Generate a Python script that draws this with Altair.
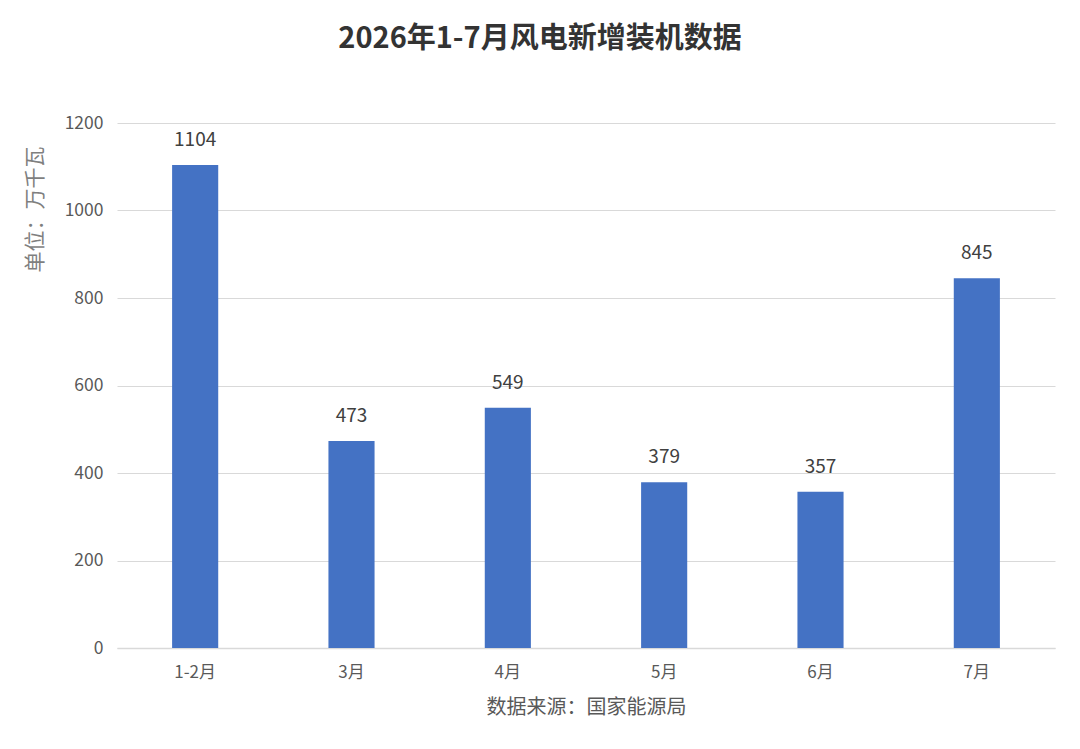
import altair as alt
import pandas as pd

months = ["1-2月", "3月", "4月", "5月", "6月", "7月"]
values = [1104, 473, 549, 379, 357, 845]

df = pd.DataFrame({"month": months, "value": values})

FONT = "Noto Sans CJK SC"

base = alt.Chart(df).encode(
    x=alt.X("month:N", sort=months,
            scale=alt.Scale(paddingInner=0.705, paddingOuter=0.3525),
            axis=alt.Axis(title="数据来源：国家能源局", labelAngle=0, ticks=False,
                          domainColor="#d9d9d9", domainWidth=1.3,
                          labelFontSize=17, labelColor="#595959", labelPadding=16,
                          labelFont=FONT, titleFont=FONT, titleFontSize=20,
                          titleFontWeight="normal", titleColor="#595959", titlePadding=17)),
    y=alt.Y("value:Q", scale=alt.Scale(domain=[0, 1200]),
            axis=alt.Axis(title="单位：万千瓦", values=[0, 200, 400, 600, 800, 1000, 1200],
                          format="d",
                          domain=False, ticks=False, gridColor="#d9d9d9", gridWidth=1.2,
                          labelFontSize=17.5, labelColor="#595959", labelPadding=14,
                          labelFont=FONT, titleFont=FONT, titleFontSize=21,
                          titleFontWeight="normal", titleColor="#7f7f7f",
                          titleX=-82, titleY=86, titleAlign="center", titleBaseline="middle")),
)

bars = base.mark_bar(color="#4472C4")
labels = base.mark_text(dy=-25, fontSize=19, color="#404040", font=FONT, baseline="middle").encode(
    text=alt.Text("value:Q")
)

chart = (bars + labels).properties(
    width=938, height=525,
    autosize=alt.AutoSizeParams(type="none"),
    padding={"left": 109, "top": 115, "right": 17, "bottom": 90},
    title=alt.TitleParams("2026年1-7月风电新增装机数据", font=FONT, fontSize=29,
                          fontWeight="bold", color="#333333", dx=-46, offset=60),
).configure(background="white").configure_view(stroke=None)

chart.save("out.html", embed_options={"renderer": "svg", "actions": False})
